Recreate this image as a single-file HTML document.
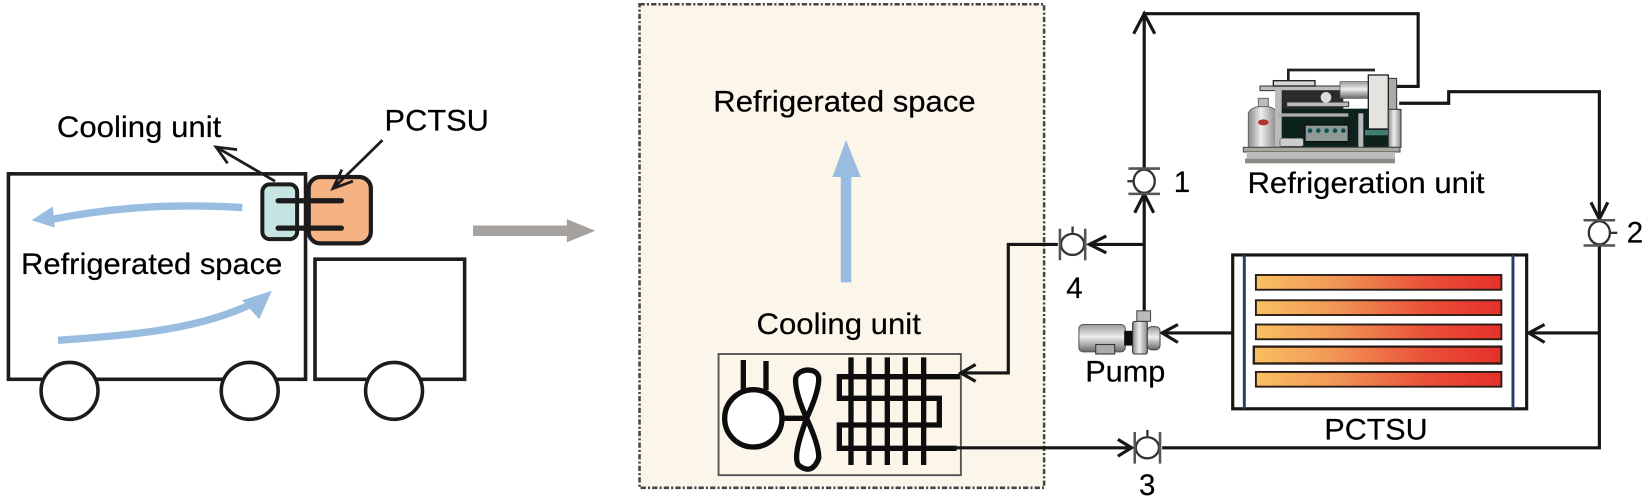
<!DOCTYPE html>
<html><head><meta charset="utf-8"><style>
html,body{margin:0;padding:0;background:#fff;width:1652px;height:503px;overflow:hidden}
svg{display:block}
text{font-family:"Liberation Sans",sans-serif;fill:#000;font-size:28px;stroke:#000;stroke-width:.2}
</style></head><body>
<svg width="1652" height="503" viewBox="0 0 1652 503" xmlns="http://www.w3.org/2000/svg">
<defs>
<linearGradient id="bar"><stop offset="0" stop-color="#f8c060"/><stop offset=".3" stop-color="#f29a58"/><stop offset=".7" stop-color="#ea4f38"/><stop offset="1" stop-color="#e5302a"/></linearGradient>
<linearGradient id="sil" x1="0" x2="1"><stop offset="0" stop-color="#888"/><stop offset=".45" stop-color="#eee"/><stop offset="1" stop-color="#888"/></linearGradient>
<linearGradient id="silv" x1="0" x2="0" y1="0" y2="1"><stop offset="0" stop-color="#999"/><stop offset=".45" stop-color="#eee"/><stop offset="1" stop-color="#666"/></linearGradient>
<g id="v"><ellipse cx="0" cy="0" rx="10" ry="11" fill="#fff" stroke="#333" stroke-width="2.2"/><path d="M-15-12H15M-15 12H15" stroke="#555" stroke-width="2.4" fill="none"/></g>
<filter id="b"><feGaussianBlur stdDeviation=".35"/></filter>
</defs>
<g filter="url(#b)">
<g transform="scale(1.0536)">
<!-- truck -->
<g fill="none" stroke="#1c1c1c" stroke-width="3.4">
<rect x="8" y="165" width="282" height="195" fill="#fff"/>
<rect x="299" y="246" width="142" height="114" fill="#fff"/>
<circle cx="66" cy="371" r="27" fill="#fff"/><circle cx="237" cy="371" r="27" fill="#fff"/><circle cx="374" cy="371" r="27" fill="#fff"/>
</g>
<rect x="249" y="175" width="33" height="52" rx="7" fill="#c5e4e2" stroke="#1c1c1c" stroke-width="3.8"/>
<rect x="293" y="168" width="59" height="63" rx="11" fill="#f5b283" stroke="#1c1c1c" stroke-width="4"/>
<path d="M264 190.5H324M264 216.5H324" stroke="#1c1c1c" stroke-width="5" stroke-linecap="round"/>
<path d="M261 172L205 139.500M225 142L205 139.500L216 155" fill="none" stroke="#1c1c1c" stroke-width="2.6"/>
<path d="M363 133L316 179M324.500 161L316 179L335 172" fill="none" stroke="#1c1c1c" stroke-width="2.6"/>
<path d="M230 197C160 193 105 197 45 209" fill="none" stroke="#99bde0" stroke-width="7"/>
<path d="M30 209L50 196L52 216Z" fill="#99bde0"/>
<path d="M55 323C130 318 190 312 240 288" fill="none" stroke="#99bde0" stroke-width="7"/>
<path d="M258 276L246 303L230 285Z" fill="#99bde0"/>
<text x="54" y="130" textLength="156" lengthAdjust="spacingAndGlyphs">Cooling unit</text>
<text x="365" y="124" textLength="99" lengthAdjust="spacingAndGlyphs">PCTSU</text>
<text x="20" y="260" textLength="248" lengthAdjust="spacingAndGlyphs">Refrigerated space</text>
<!-- gray arrow -->
<path d="M449 214H538V208L565 219L538 230V224H449Z" fill="#a5a19e"/>
<!-- dashed box -->
<rect x="607" y="4" width="384" height="459" fill="#fbf5ea" stroke="#444" stroke-width="2.4" stroke-dasharray="5 2 2 2"/>
<path d="M798 268V168H790L803 133L817 168H808V268Z" fill="#99bde0"/>
<text x="677" y="106" textLength="249" lengthAdjust="spacingAndGlyphs">Refrigerated space</text>
<text x="718" y="317" textLength="156" lengthAdjust="spacingAndGlyphs">Cooling unit</text>
<rect x="682" y="336" width="230" height="115" fill="#fbf5ea" stroke="#555" stroke-width="1.8"/>
</g>
<!-- cooling icon -->
<g transform="translate(700,300) scale(.3333)" fill="none" stroke="#111" stroke-width="16">
<circle cx="160" cy="355" r="86" fill="#fff"/>
<path d="M130 180V270M198 183V270M250 355H320" />
<path d="M320 355C295 300 285 260 287 235C292 205 350 200 356 232C358 265 340 310 320 355C345 410 358 450 356 475C345 505 325 520 295 495C280 470 300 410 320 355Z" fill="#fff"/>
<path d="M780 230H418V295H718V375H418V445H770"/>
<path d="M453 172V495M507 172V495M562 172V495M616 172V495M671 172V495"/>
</g>
<g transform="scale(1.0536)">
<!-- pipes -->
<g fill="none" stroke="#151515" stroke-width="3">
<path d="M1086 162V13H1346V82H1320"/>
<path d="M1328 98H1375V87H1518V208"/>
<path d="M1518 234V425H1103"/>
<path d="M1518 316H1452"/>
<path d="M1086 298V185"/>
<path d="M1086 232H1034"/>
<path d="M1004 232H957V354H912"/>
<path d="M905 425H1072"/>
<path d="M1170 316H1105"/>
<path d="M1076 32L1086 13L1096 32" />
<path d="M1077 202L1086 184L1095 202"/>
<path d="M1050 224L1034 232L1050 240"/>
<path d="M926 346L912 354L926 362"/>
<path d="M1061 417L1074 425L1061 433"/>
<path d="M1118 308L1103 316L1118 325"/>
<path d="M1466 308L1451 316L1466 325"/>
<path d="M1510 192L1518 208L1526 192"/>
</g>
<use href="#v" x="1086" y="172"/>
<path d="M1076 172H1070" stroke="#333" stroke-width="2.2"/>
<use href="#v" x="1518" y="221"/>
<path d="M1528 221H1535" stroke="#333" stroke-width="2.2"/>
<g transform="translate(1018,232) rotate(90)"><use href="#v"/></g>
<path d="M1018 221V215" stroke="#333" stroke-width="2.2"/>
<g transform="translate(1089,425) rotate(90)"><use href="#v"/></g>
<path d="M1089 414V408" stroke="#333" stroke-width="2.2"/>
<!-- PCTSU -->
<rect x="1170" y="242" width="279" height="146" fill="#fff" stroke="#151515" stroke-width="3"/>
<path d="M1181 242V388M1436 242V388" stroke="#2c3a68" stroke-width="2.8"/>
<g fill="url(#bar)" stroke="#2a1c14" stroke-width="1.8">
<rect x="1192" y="261" width="233" height="14"/>
<rect x="1192" y="285" width="233" height="14"/>
<rect x="1192" y="308" width="233" height="14"/>
<rect x="1190" y="329" width="235" height="16" stroke-width="2.2"/>
<rect x="1192" y="353" width="233" height="14"/>
</g>
<!-- pump -->
<rect x="1024" y="308" width="44" height="26" rx="4" fill="url(#silv)" stroke="#555"/>
<rect x="1040" y="327" width="18" height="9" fill="#aaa" stroke="#333"/>
<rect x="1067" y="314" width="8" height="14" fill="#111"/>
<rect x="1075" y="305" width="14" height="31" rx="2" fill="url(#sil)" stroke="#333"/>
<rect x="1089" y="310" width="12" height="22" rx="4" fill="url(#silv)" stroke="#444"/>
<rect x="1079" y="295" width="13" height="10" fill="#bbb" stroke="#444"/>
<!-- text -->
<text x="1184" y="183" textLength="225" lengthAdjust="spacingAndGlyphs">Refrigeration unit</text>
<text x="1030" y="362" textLength="76" lengthAdjust="spacingAndGlyphs">Pump</text>
<text x="1257" y="417" textLength="98" lengthAdjust="spacingAndGlyphs">PCTSU</text>
<text x="1114" y="182">1</text>
<text x="1544" y="230">2</text>
<text x="1081" y="470">3</text>
<text x="1012" y="283">4</text>
</g>
<!-- compressor -->
<g transform="translate(1230,10) scale(.3333)">
<path d="M175 260V180H435" fill="none" stroke="#222" stroke-width="8"/>
<rect x="140" y="240" width="200" height="60" fill="#2a2a2a"/>
<rect x="140" y="296" width="365" height="116" fill="#11211f"/>
<rect x="85" y="265" width="30" height="35" fill="#bbb" stroke="#666" stroke-width="3"/>
<path d="M55 412V310Q60 295 85 290H115Q138 295 140 310V412Z" fill="url(#sil)" stroke="#666" stroke-width="3"/>
<ellipse cx="100" cy="337" rx="16" ry="9" fill="#b5302e"/>
<rect x="90" y="228" width="320" height="14" fill="#bbb" stroke="#333" stroke-width="3"/>
<rect x="130" y="212" width="125" height="16" fill="#d5d5d5" stroke="#222" stroke-width="4"/>
<rect x="135" y="240" width="20" height="170" fill="#bbb"/>
<rect x="330" y="215" width="85" height="50" fill="url(#silv)" stroke="#444" stroke-width="2"/>
<rect x="170" y="276" width="186" height="14" fill="#bbb" stroke="#333" stroke-width="3"/>
<rect x="145" y="310" width="210" height="10" fill="#aaa"/>
<circle cx="288" cy="262" r="16" fill="#ddd"/>
<rect x="225" y="345" width="130" height="50" fill="#8f9a96" stroke="#111" stroke-width="4"/>
<g fill="#0f4f52"><circle cx="240" cy="362" r="7"/><circle cx="265" cy="362" r="7"/><circle cx="290" cy="362" r="7"/><circle cx="315" cy="362" r="7"/><circle cx="340" cy="362" r="7"/></g>
<rect x="150" y="385" width="70" height="24" rx="6" fill="#ccc" stroke="#555" stroke-width="2"/>
<rect x="385" y="310" width="15" height="102" fill="#bbb"/>
<rect x="405" y="360" width="70" height="16" fill="#3f7f70"/>
<rect x="475" y="205" width="25" height="95" fill="#aaa" stroke="#333" stroke-width="3"/>
<rect x="415" y="195" width="60" height="162" fill="#e4e4de" stroke="#222" stroke-width="4"/>
<rect x="475" y="298" width="38" height="114" fill="url(#sil)" stroke="#333" stroke-width="3"/>
<rect x="40" y="412" width="470" height="14" fill="#a8a8a0" stroke="#444" stroke-width="3"/>
<rect x="50" y="426" width="445" height="20" fill="#bbb"/>
<rect x="45" y="446" width="450" height="14" fill="#8c8c86"/>
</g>
</g>
</svg>
</body></html>
